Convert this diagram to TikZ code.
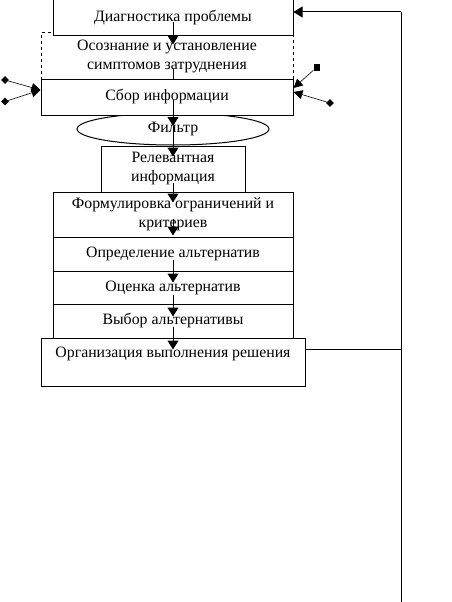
\documentclass[tikz,border=0pt]{standalone}
\usepackage{fontspec}
\setmainfont{Liberation Serif}
\usetikzlibrary{arrows.meta,shapes.geometric}

\begin{document}
\begin{tikzpicture}[x=1pt,y=-1pt,
box/.style={draw,fill=white,line width=1pt,font=\fontsize{15.8}{19}\selectfont,align=center,inner sep=0pt},
arrow/.style={-{Triangle[length=9pt,width=11pt]},line width=1pt},
thinarrow/.style={-{Triangle[length=9pt,width=9pt]},line width=0.6pt},
line/.style={line width=1pt},
dot/.style={diamond,fill,inner sep=0pt,minimum size=8pt},
sq/.style={rectangle,fill,inner sep=0pt,minimum size=6pt} ]

\useasboundingbox (0,0) rectangle (452,602);

\node[draw,ellipse,fill=white,line width=1pt,minimum width=192pt,minimum height=32pt,inner sep=0pt,font=\fontsize{15.8}{19}\selectfont](filter) at (173,129) {Фильтр};

\node[box,dashed,minimum width=252pt,minimum height=46pt](aware) at (167,56) {Осознание и установление\\симптомов затруднения};

\node[box,minimum width=240pt,minimum height=36pt](diag) at (173,18) {Диагностика проблемы};

\node[box,minimum width=252pt,minimum height=36pt](collect) at (167,97) {Сбор информации};

\node[box,minimum width=144pt,minimum height=46pt](relevant) at (173,169) {Релевантная\\информация};

\node[box,minimum width=240pt,minimum height=45pt](formul) at (173,214.5) {Формулировка ограничений и\\критериев};

\node[box,minimum width=240pt,minimum height=34pt](define) at (173,254) {Определение альтернатив};

\node[box,minimum width=240pt,minimum height=33pt](assess) at (173,287.5) {Оценка альтернатив};

\node[box,minimum width=240pt,minimum height=34pt](choice) at (173,321) {Выбор альтернативы};

\node[box,minimum width=264pt,minimum height=48pt](org) at (173,362) {Организация выполнения решения\\\mbox{}};

\node[dot](l1) at (5,80) {};
\node[dot](l2) at (5,101.5) {};
\node[sq](r1) at (316.5,67.5) {};
\node[dot](r2) at (330,103) {};

\coordinate (fbtop) at (401,12);
\coordinate (fbjoin) at (401,349);
\coordinate (fbbot) at (401,602);

\draw[arrow] ([yshift=-4pt]diag.center) -- ([yshift=-8pt]diag.south);
\draw[line] ([xshift=6pt,yshift=9pt]collect.north) -- ([xshift=6pt]collect.north);
\draw[arrow] ([xshift=6pt,yshift=-3pt]collect.center) -- ([yshift=3pt]filter.center);
\draw[arrow] ([yshift=3pt]filter.center) -- ([yshift=-11pt]relevant.north);
\draw[arrow] ([yshift=-14pt]relevant.center) -- ([yshift=-11pt]formul.north);
\draw[arrow] ([yshift=-4pt]formul.center) -- ([yshift=1pt]define.north);
\draw[arrow] ([yshift=-6pt]define.center) -- ([yshift=-12pt]assess.north);
\draw[arrow] ([yshift=-7.5pt]assess.center) -- ([yshift=-13pt]choice.north);
\draw[arrow] ([yshift=-6pt]choice.center) -- ([yshift=-12pt]org.north);

\draw[thinarrow] (l1) -- ([yshift=7pt]collect.west);
\draw[thinarrow] (l2) -- ([yshift=7pt]collect.west);
\draw[thinarrow] (r1) -- ([yshift=9pt]collect.east);
\draw[thinarrow] (r2) -- ([yshift=5pt]collect.east);

\draw[line] (org.east |- fbjoin) -- (fbjoin);
\draw[line] (fbbot) -- (fbtop);
\draw[arrow] (fbtop) -- (diag.east |- fbtop);
\end{tikzpicture}
\end{document}
